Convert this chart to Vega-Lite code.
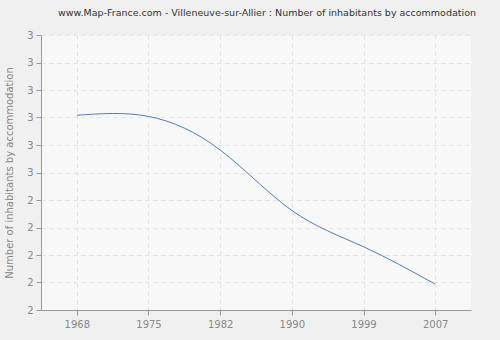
{
  "$schema": "https://vega.github.io/schema/vega-lite/v6.json",
  "width": 430,
  "height": 275,
  "autosize": "none",
  "padding": {"left": 41, "top": 35, "right": 29, "bottom": 30},
  "background": "#f0f0f0",
  "title": {
    "text": "www.Map-France.com - Villeneuve-sur-Allier : Number of inhabitants by accommodation",
    "font": "DejaVu Sans",
    "fontSize": 9.5,
    "fontWeight": "normal",
    "color": "#333333",
    "offset": 13,
    "dx": 11
  },
  "config": {
    "view": {"fill": "#f8f8f8", "stroke": null},
    "axis": {
      "labelFont": "DejaVu Sans",
      "titleFont": "DejaVu Sans",
      "labelFontSize": 10,
      "titleFontSize": 10,
      "labelColor": "#888888",
      "titleColor": "#888888",
      "titleFontWeight": "normal",
      "domainColor": "#999999",
      "tickColor": "#999999",
      "tickSize": 5,
      "gridColor": "#e2e2e2",
      "gridDash": [4, 4]
    }
  },
  "data": {
    "values": [
      {"year": 1968, "value": 2.708},
      {"year": 1975, "value": 2.704},
      {"year": 1982, "value": 2.582},
      {"year": 1990, "value": 2.362},
      {"year": 1999, "value": 2.23},
      {"year": 2007, "value": 2.094}
    ]
  },
  "mark": {"type": "line", "interpolate": "natural", "color": "#4f7db5", "strokeWidth": 1},
  "encoding": {
    "x": {
      "field": "year",
      "type": "ordinal",
      "scale": {"type": "point", "padding": 0.5},
      "axis": {"title": null, "labelPadding": 4, "labelAngle": 0, "grid": true}
    },
    "y": {
      "field": "value",
      "type": "quantitative",
      "scale": {"domain": [2, 3], "nice": false, "zero": false},
      "axis": {
        "values": [2, 2.1, 2.2, 2.3, 2.4, 2.5, 2.6, 2.7, 2.8, 2.9, 3],
        "format": ".0f",
        "title": "Number of inhabitants by accommodation",
        "titlePadding": 12,
        "labelPadding": 3
      }
    }
  }
}
